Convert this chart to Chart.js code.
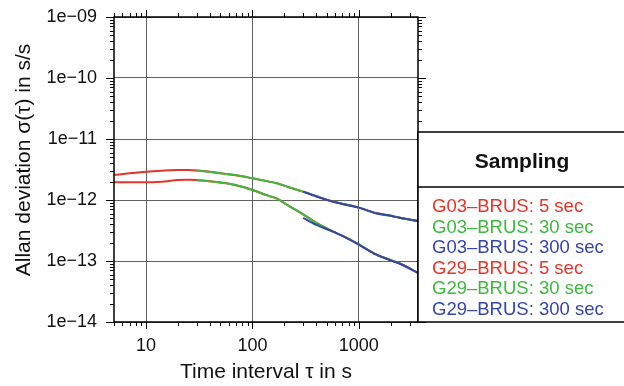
<!DOCTYPE html>
<html>
<head>
<meta charset="utf-8">
<script src="https://cdn.jsdelivr.net/npm/chart.js@4.4.1/dist/chart.umd.min.js"></script>
<style>
  html, body { margin: 0; padding: 0; background: #fff; }
</style>
</head>
<body>
<canvas id="allan" width="624" height="386"></canvas>
<script>
const FONT = "'Liberation Sans', Arial, Helvetica, sans-serif";

// averaging intervals in s, one list per sampling rate
const tau5 = [5, 7, 10, 14, 20, 25, 30, 40, 57, 80, 100, 140, 170, 220, 300, 400, 534, 700, 1000, 1460, 2000, 2430, 3600];
const tau30 = [30, 40, 57, 80, 100, 140, 170, 220, 300, 400, 534, 700, 1000, 1460, 2000, 2430, 3600];
const tau300 = [300, 400, 534, 700, 1000, 1460, 2000, 2430, 3600];

// Allan deviation in units of 1e-12 s/s
const g03_5 = [2.57, 2.75, 2.91, 3.02, 3.10, 3.10, 3.05, 2.90, 2.67, 2.45, 2.27, 2.02, 1.88, 1.62, 1.37, 1.15, 0.97, 0.87, 0.75, 0.61, 0.55, 0.51, 0.45];
const g03_30 = [3.04, 2.89, 2.67, 2.45, 2.27, 2.02, 1.88, 1.62, 1.37, 1.15, 0.97, 0.87, 0.75, 0.60, 0.55, 0.51, 0.455];
const g03_300 = [1.37, 1.14, 0.97, 0.86, 0.75, 0.605, 0.55, 0.51, 0.45];
const g29_5 = [1.95, 1.95, 1.95, 2.00, 2.12, 2.14, 2.12, 2.03, 1.88, 1.65, 1.46, 1.18, 1.05, 0.80, 0.58, 0.42, 0.322, 0.26, 0.187, 0.128, 0.103, 0.091, 0.063];
const g29_30 = [2.11, 2.02, 1.88, 1.65, 1.46, 1.18, 1.05, 0.80, 0.58, 0.42, 0.322, 0.26, 0.187, 0.128, 0.103, 0.091, 0.064];
const g29_300 = [0.51, 0.39, 0.318, 0.258, 0.186, 0.127, 0.102, 0.09, 0.064];

// labelled decades
const xMajor = [10, 100, 1000];
const xLabels = ['10', '100', '1000'];
const yMajor = [1e-14, 1e-13, 1e-12, 1e-11, 1e-10, 1e-9];
const yLabels = ['1e\u221214', '1e\u221213', '1e\u221212', '1e\u221211', '1e\u221210', '1e\u221209'];

const legendTitle = 'Sampling';

const RED = 'rgb(229,52,42)';
const GREEN = 'rgb(62,184,62)';
const BLUE = 'rgb(52,70,168)';

const isMajor = v => Math.abs(Math.log10(v) - Math.round(Math.log10(v))) < 1e-6;
const labelFor = (v, majors, labels) => {
  const i = majors.findIndex(m => Math.abs(Math.log10(m) - Math.log10(v)) < 1e-6);
  return i < 0 ? '' : labels[i];
};

// every 1..9 step of each decade inside the axis range
function logSteps(lo, hi) {
  const out = [];
  for (let e = Math.floor(Math.log10(lo)); e <= Math.ceil(Math.log10(hi)); e++) {
    for (let m = 1; m <= 9; m++) {
      const v = m * Math.pow(10, e);
      if (v >= lo * 0.999999 && v <= hi * 1.000001) out.push(v);
    }
  }
  return out;
}

const pts = (t, v) => t.map((x, i) => ({ x: x, y: v[i] * 1e-12 }));

function series(label, t, v, color, order) {
  return {
    label: label,
    data: pts(t, v),
    borderColor: color,
    borderWidth: 2,
    pointRadius: 0,
    cubicInterpolationMode: 'monotone',
    fill: false,
    order: order
  };
}

const datasets = [
  series('G03\u2013BRUS: 5 sec', tau5, g03_5, RED, 2),
  series('G03\u2013BRUS: 30 sec', tau30, g03_30, GREEN, 1),
  series('G03\u2013BRUS: 300 sec', tau300, g03_300, BLUE, 0),
  series('G29\u2013BRUS: 5 sec', tau5, g29_5, RED, 2),
  series('G29\u2013BRUS: 30 sec', tau30, g29_30, GREEN, 1),
  series('G29\u2013BRUS: 300 sec', tau300, g29_300, BLUE, 0)
];

const GRID = 'rgba(70,70,70,0.85)';

// black frame with outward tick marks on all four sides
const frame = {
  id: 'frame',
  afterDraw(chart) {
    const { ctx, chartArea: a, scales: { x, y } } = chart;
    ctx.save();
    ctx.strokeStyle = '#000';
    ctx.lineWidth = 1;
    ctx.beginPath();
    x.ticks.forEach(t => {
      const px = Math.round(x.getPixelForValue(t.value)) + 0.5;
      const len = isMajor(t.value) ? 7 : 4;
      ctx.moveTo(px, a.bottom); ctx.lineTo(px, a.bottom + len);
      ctx.moveTo(px, a.top); ctx.lineTo(px, a.top - len);
    });
    y.ticks.forEach(t => {
      const py = Math.round(y.getPixelForValue(t.value)) + 0.5;
      const len = isMajor(t.value) ? 8 : 4;
      ctx.moveTo(a.left, py); ctx.lineTo(a.left - len, py);
      ctx.moveTo(a.right, py); ctx.lineTo(a.right + len, py);
    });
    ctx.stroke();
    ctx.lineWidth = 1.5;
    ctx.strokeRect(a.left, a.top, a.right - a.left, a.bottom - a.top);

    // vertical axis title
    ctx.translate(24, 160);
    ctx.rotate(-Math.PI / 2);
    ctx.font = '21px ' + FONT;
    ctx.fillStyle = '#111';
    ctx.textAlign = 'center';
    ctx.textBaseline = 'middle';
    ctx.fillText('Allan deviation \u03c3(\u03c4) in s/s', 0, 0);
    ctx.restore();
  }
};

// boxed legend to the right of the plot
const sampling = {
  id: 'sampling',
  afterDraw(chart) {
    const { ctx, chartArea: a } = chart;
    const L = a.right, T = 132, B = a.bottom, R = chart.width + 2, H = 187;
    ctx.save();
    ctx.fillStyle = '#fff';
    ctx.fillRect(L, T, R - L, B - T);
    ctx.strokeStyle = '#000';
    ctx.lineWidth = 1.5;
    ctx.beginPath();
    ctx.moveTo(R, T); ctx.lineTo(L, T); ctx.lineTo(L, B); ctx.lineTo(R, B);
    ctx.moveTo(L, H); ctx.lineTo(R, H);
    ctx.stroke();
    ctx.fillStyle = '#111';
    ctx.font = 'bold 21px ' + FONT;
    ctx.textAlign = 'center';
    ctx.textBaseline = 'middle';
    ctx.fillText(legendTitle, 522, 162);
    ctx.font = '18.5px ' + FONT;
    ctx.textAlign = 'left';
    chart.data.datasets.forEach((ds, i) => {
      ctx.fillStyle = ds.borderColor;
      ctx.fillText(ds.label, 432, 207 + i * 20.6);
    });
    ctx.restore();
  }
};

new Chart(document.getElementById('allan'), {
  type: 'line',
  data: { datasets: datasets },
  options: {
    responsive: false,
    animation: false,
    devicePixelRatio: 1,
    layout: { padding: { left: 0, top: 17, right: 206, bottom: 0 } },
    plugins: { legend: { display: false }, tooltip: { enabled: false } },
    scales: {
      x: {
        type: 'logarithmic',
        min: 5,
        max: 3600,
        afterBuildTicks: s => { s.ticks = logSteps(5, 3600).map(v => ({ value: v })); },
        afterFit: s => { s.height = 64; s.paddingLeft = 0; s.paddingRight = 0; },
        border: { display: false },
        grid: {
          drawTicks: false,
          lineWidth: 1,
          color: c => (c.tick && isMajor(c.tick.value)) ? GRID : 'rgba(0,0,0,0)'
        },
        ticks: {
          autoSkip: false,
          maxRotation: 0,
          padding: 13,
          color: '#111',
          font: { family: FONT, size: 18 },
          callback: v => labelFor(v, xMajor, xLabels)
        },
        title: {
          display: true,
          text: 'Time interval \u03c4 in s',
          color: '#111',
          font: { family: FONT, size: 21 },
          padding: { top: 0, bottom: 1 }
        }
      },
      y: {
        type: 'logarithmic',
        min: 1e-14,
        max: 1e-9,
        afterBuildTicks: s => { s.ticks = logSteps(1e-14, 1e-9).map(v => ({ value: v })); },
        afterFit: s => { s.width = 114; s.paddingTop = 0; s.paddingBottom = 0; },
        border: { display: false },
        grid: {
          drawTicks: false,
          lineWidth: 1,
          color: c => (c.tick && isMajor(c.tick.value)) ? GRID : 'rgba(0,0,0,0)'
        },
        ticks: {
          autoSkip: false,
          padding: 17,
          color: '#111',
          font: { family: FONT, size: 18 },
          callback: v => labelFor(v, yMajor, yLabels)
        }
      }
    }
  },
  plugins: [frame, sampling]
});
</script>
</body>
</html>
